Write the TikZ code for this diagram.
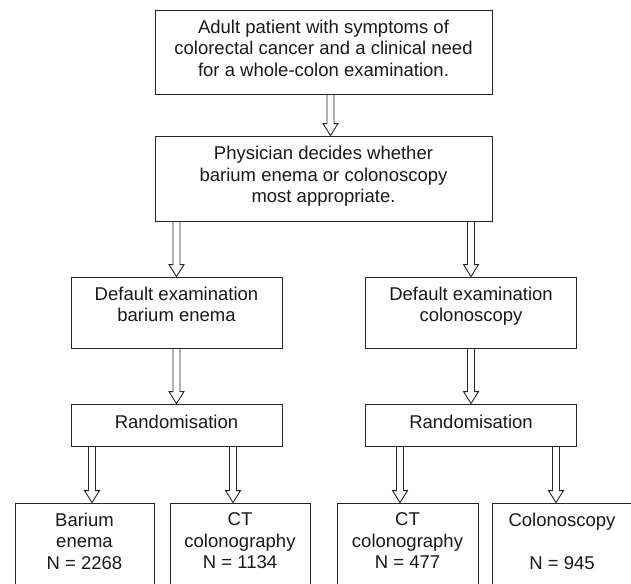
\documentclass[tikz,border=0pt]{standalone}
\usepackage{fontspec}
\setmainfont{Liberation Sans}
\usetikzlibrary{calc}
\tikzset{
  box/.style={draw=black!85, line width=0.9pt, rectangle, inner sep=0pt},
  txt/.style={align=center, inner sep=0pt, anchor=north, font=\fontsize{18.5}{21.5}\selectfont, text=black!90},
  harrow/.style={draw=black!85, line width=0.9pt, line join=miter},
}
\newcommand\hollowarrow[2]{%
  \draw[harrow] let \p1=(#1), \p2=(#2) in
    (\x1-3.5pt,\y1) -- (\x1-3.5pt,\y2+12pt) -- (\x1-7.5pt,\y2+12pt) -- (\x1,\y2)
    -- (\x1+7.5pt,\y2+12pt) -- (\x1+3.5pt,\y2+12pt) -- (\x1+3.5pt,\y1);}
\begin{document}
\begin{tikzpicture}[x=1pt,y=-1pt]
\useasboundingbox (0,0) rectangle (631,583);
\clip (0,0) rectangle (631,583);
% boxes
\node[box, minimum width=337pt, minimum height=84pt] (b1) at (323.5,52) {};
\node[box, minimum width=337pt, minimum height=85pt] (b2) at (323.5,178.5) {};
\node[box, minimum width=211pt, minimum height=71pt] (d1) at (176.5,312.5) {};
\node[box, minimum width=211pt, minimum height=71pt] (d2) at (471,312.5) {};
\node[box, minimum width=211pt, minimum height=42pt] (r1) at (176.5,425) {};
\node[box, minimum width=211pt, minimum height=42pt] (r2) at (471,425) {};
\node[box, minimum width=139pt, minimum height=100pt] (e1) at (84.5,553) {};
\node[box, minimum width=140pt, minimum height=100pt] (e2) at (240,553) {};
\node[box, minimum width=141pt, minimum height=100pt] (e3) at (407.5,553) {};
\node[box, minimum width=140pt, minimum height=100pt] (e4) at (562,553) {};
% texts
\node[txt] (t1) at ([yshift=-10pt]b1.north) {Adult patient with symptoms of\\colorectal cancer and a clinical need\\for a whole-colon examination.};
\node[txt] (t2) at ([yshift=-10.5pt]b2.north) {Physician decides whether\\barium enema or colonoscopy\\most appropriate.};
\node[txt] (td1) at ([yshift=-10pt]d1.north) {Default examination\\barium enema};
\node[txt] (td2) at ([yshift=-10pt]d2.north) {Default examination\\colonoscopy};
\node[txt] (tr1) at ([yshift=-11pt]r1.north) {Randomisation};
\node[txt] (tr2) at ([yshift=-11pt]r2.north) {Randomisation};
\node[txt] (te1) at ([yshift=-10pt]e1.north) {Barium\\enema\\N = 2268};
\node[txt] (te2) at ([yshift=-10pt]e2.north) {CT\\colonography\\N = 1134};
\node[txt] (te3) at ([yshift=-10pt]e3.north) {CT\\colonography\\N = 477};
\node[txt] (te4) at ([yshift=-10pt]e4.north) {Colonoscopy\\\mbox{}\\N = 945};
% arrow target points
\coordinate (a1) at ([xshift=7pt]b2.north);
\coordinate (ae1) at ([xshift=7.5pt]e1.north);
\coordinate (ae2) at ([xshift=-7pt]e2.north);
\coordinate (ae3) at ([xshift=-7.5pt]e3.north);
\coordinate (ae4) at ([xshift=-6pt]e4.north);
% arrows
\hollowarrow{b1.south -| a1}{a1}
\hollowarrow{b2.south -| d1.north}{d1.north}
\hollowarrow{b2.south -| d2.north}{d2.north}
\hollowarrow{d1.south}{r1.north}
\hollowarrow{d2.south}{r2.north}
\hollowarrow{r1.south -| ae1}{ae1}
\hollowarrow{r1.south -| ae2}{ae2}
\hollowarrow{r2.south -| ae3}{ae3}
\hollowarrow{r2.south -| ae4}{ae4}
\end{tikzpicture}
\end{document}
